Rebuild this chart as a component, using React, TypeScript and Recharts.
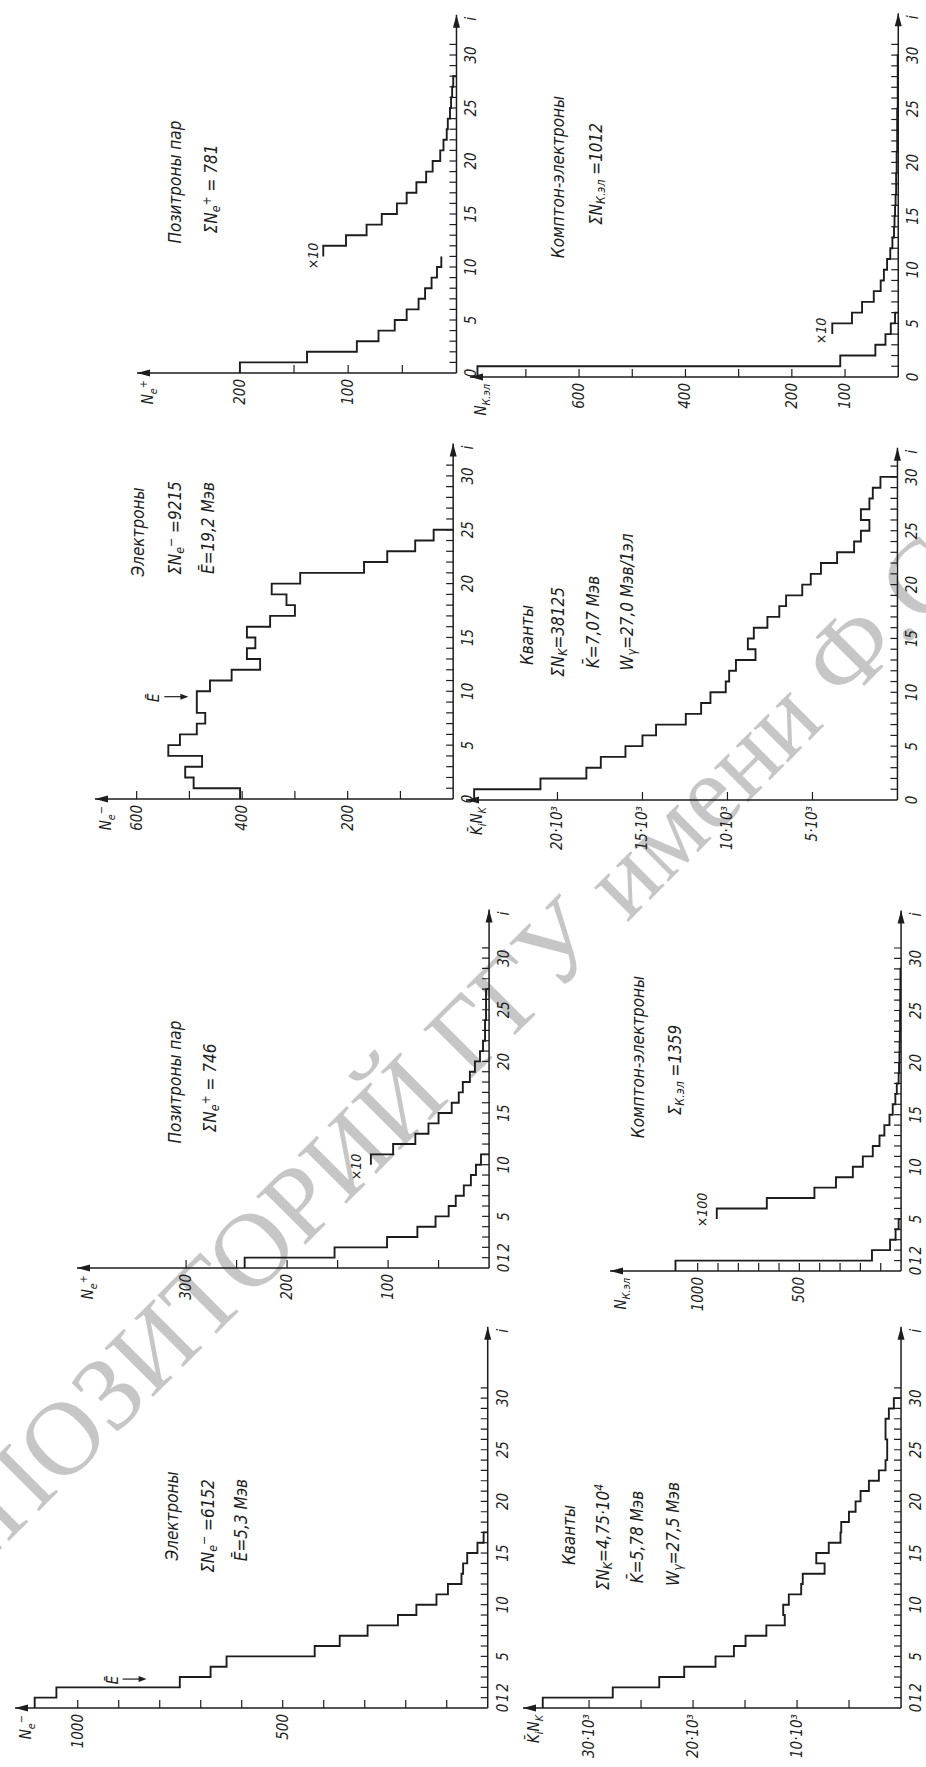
import React from 'react';
import { ComposedChart, Line, XAxis, YAxis, ReferenceDot } from 'recharts';

const INK = '#1d1d1d';
const FONT = "'DejaVu Sans Condensed', 'Liberation Sans Narrow', 'DejaVu Sans', sans-serif";

// ---------------- data (bin i covers [i, i+1)) ----------------
// left half, lower row: Электроны (ΣN = 6152)
const electrons6152 = [1105, 1052, 751, 676, 637, 422, 361, 293, 219, 174, 125, 97, 64, 60, 50, 25, 10];
// Кванты (ΣN = 4,75·10^4), K_i·N_K
const quanta475 = [34450, 27720, 23250, 20850, 17840, 16070, 14950, 12950, 11180, 11330, 10790, 9600, 9450, 7350, 8150, 6950, 5820, 5750, 5010, 4370, 3890, 3090, 2130, 1490, 1330, 1330, 1490, 1490, 1170, 690];
// Позитроны пар (ΣN = 746) and the ×10 tail
const positrons746 = [242, 153, 101, 71, 53, 40, 33, 25, 18, 13, 8];
const positrons746x10 = [117, 95, 73, 60, 50, 37, 30, 26, 19, 14, 9, 6, 4, 4, 3, 3, 3];
const positrons746x10Start = 10;
// Комптон-электроны (Σ = 1359) and the ×100 tail
const compton1359 = [1109, 143, 54, 27, 12];
const compton1359x100 = [906, 660, 426, 320, 237, 188, 139, 106, 82, 57, 41, 28, 21, 12, 10, 8, 7, 6, 5, 5, 4, 4, 3, 3];
const compton1359x100Start = 5;
// right half: Электроны (ΣN = 9215)
const electrons9215 = [404, 492, 508, 476, 540, 518, 486, 470, 486, 486, 461, 420, 366, 391, 375, 391, 347, 300, 316, 344, 290, 169, 125, 72, 37];
// Кванты (ΣN = 38125)
const quanta38125 = [24900, 21000, 18300, 17450, 16000, 15000, 14200, 12450, 11550, 11000, 10100, 9900, 9500, 8350, 8800, 8450, 7650, 6950, 6550, 5600, 5100, 4500, 3550, 2550, 2150, 1650, 2150, 1650, 1450, 1000];
// Позитроны пар (ΣN = 781) and the ×10 tail
const positrons781 = [200, 138, 92, 72, 57, 46, 35, 29, 23, 18, 14];
const positrons781x10 = [123, 102, 83, 69, 55, 46, 37, 28, 22, 15, 12, 9, 8, 6, 5, 4, 3];
const positrons781x10Start = 11;
// Комптон-электроны (ΣN = 1012) and the ×10 tail
const compton1012 = [791, 109, 43, 24, 14, 6];
const compton1012x10 = [124, 87, 68, 46, 33, 27, 21, 15, 11, 8, 7, 6, 5, 4, 4, 3, 3, 2, 2, 2, 2, 1, 1, 1, 1, 1];
const compton1012x10Start = 4;

// ---------------- ticks and tick labels ----------------
const iTicks = [0, 1, 2, 3, 4, 5, 6, 7, 8, 9, 10, 11, 12, 13, 14, 15, 16, 17, 18, 19, 20, 21, 22, 23, 24, 25, 26, 27, 28, 29, 30, 31];
const iLabelsFine = [0, 1, 2, 5, 10, 15, 20, 25, 30];
const iLabelsCoarse = [0, 5, 10, 15, 20, 25, 30];

const e6152Ticks = [100, 200, 300, 400, 500, 600, 700, 800, 900, 1000];
const e6152LabelVals = [500, 1000];
const e6152LabelText = ['500', '1000'];
const q475Ticks = [5000, 10000, 15000, 20000, 25000, 30000];
const q475LabelVals = [10000, 20000, 30000];
const q475LabelText = ['10·10³', '20·10³', '30·10³'];
const p746Ticks = [50, 100, 150, 200, 250, 300];
const p746LabelVals = [100, 200, 300];
const p746LabelText = ['100', '200', '300'];
const c1359Ticks = [100, 200, 300, 400, 500, 600, 700, 800, 900, 1000];
const c1359LabelVals = [500, 1000];
const c1359LabelText = ['500', '1000'];
const e9215Ticks = [100, 200, 300, 400, 500, 600];
const e9215LabelVals = [200, 400, 600];
const e9215LabelText = ['200', '400', '600'];
const q38125Ticks = [5000, 10000, 15000, 20000];
const q38125LabelVals = [5000, 10000, 15000, 20000];
const q38125LabelText = ['5·10³', '10·10³', '15·10³', '20·10³'];
const p781Ticks = [50, 100, 150, 200];
const p781LabelVals = [100, 200];
const p781LabelText = ['100', '200'];
const c1012Ticks = [100, 200, 300, 400, 500, 600, 700];
const c1012LabelVals = [100, 200, 400, 600];
const c1012LabelText = ['100', '200', '400', '600'];

// ---------------- helpers ----------------
function stepPoints(values: number[], start: number, drop: boolean) {
  const pts = values.map((v, k) => ({ i: start + k, v }));
  pts.push({ i: start + values.length, v: drop ? 0 : values[values.length - 1] });
  return pts;
}

type Seg = [string, string?];
function Rich({ x, y, segs, anchor = 'start', size = 15 }: { x: number; y: number; segs: Seg[]; anchor?: string; size?: number }) {
  let shift = 0;
  const spans = segs.map(([t, k], idx) => {
    const target = k === 'b' ? 4 : k === 'p' ? -6 : 0;
    const dy = target - shift;
    shift = target;
    return (
      <tspan key={idx} dy={dy} fontSize={k === 'b' || k === 'p' ? size * 0.72 : size}>
        {t}
      </tspan>
    );
  });
  return (
    <text x={x} y={y} textAnchor={anchor as any} fontFamily={FONT} fontStyle="italic" fill={INK} fontSize={size}>
      {spans}
    </text>
  );
}

function iTick(labels: number[]) {
  return (props: any) => {
    const { x, y, payload } = props;
    const v = payload.value;
    return (
      <g>
        {v > 0 && <line x1={x} y1={y} x2={x} y2={y - 7} stroke={INK} strokeWidth={1.2} />}
        {labels.includes(v) && (
          <text x={x} y={y + 20} textAnchor="middle" fontSize={15} fontStyle="italic" fontFamily={FONT} fill={INK}>
            {v}
          </text>
        )}
      </g>
    );
  };
}

function vTick(vals: number[], texts: string[]) {
  return (props: any) => {
    const { x, y, payload } = props;
    const idx = vals.indexOf(payload.value);
    return (
      <g>
        <line x1={x} y1={y} x2={x + 8} y2={y} stroke={INK} strokeWidth={1.2} />
        {idx >= 0 && (
          <text x={x - 6} y={y + 5} textAnchor="end" fontSize={15} fontStyle="italic" fontFamily={FONT} fill={INK}>
            {texts[idx]}
          </text>
        )}
      </g>
    );
  };
}

type Series = { values: number[]; start: number; drop: boolean };
type PanelProps = {
  x0: number; y0: number; ku: number; kv: number; iMax: number; vMax: number;
  vTicks: number[]; vLabelVals: number[]; vLabelText: string[]; iLabels: number[];
  series: Series[]; name: Seg[]; marker?: { i: number; v: number };
};

const ML = 70, MR = 24, MT = 24, MB = 30;
const YW = 50, XH = 24;

function Panel(p: PanelProps) {
  const plotW = p.iMax * p.ku;
  const plotH = p.vMax * p.kv;
  const W = ML + plotW + MR;
  const H = MT + plotH + MB;
  const upArrow = (s: any) => (
    <g>
      <polygon points={`${s.cx},${s.cy} ${s.cx - 3.5},${s.cy + 13} ${s.cx + 3.5},${s.cy + 13}`} fill={INK} />
      <Rich x={s.cx - 7} y={s.cy + 16} segs={p.name} anchor="end" size={15} />
    </g>
  );
  const rightArrow = (s: any) => (
    <g>
      <polygon points={`${s.cx},${s.cy} ${s.cx - 13},${s.cy - 3.5} ${s.cx - 13},${s.cy + 3.5}`} fill={INK} />
      <text x={s.cx - 4} y={s.cy + 20} textAnchor="middle" fontSize={16} fontStyle="italic" fontFamily={FONT} fill={INK}>
        i
      </text>
    </g>
  );
  const meanMark = (s: any) => (
    <g>
      <line x1={s.cx} y1={s.cy - 24} x2={s.cx} y2={s.cy - 4} stroke={INK} strokeWidth={1.2} />
      <polygon points={`${s.cx},${s.cy} ${s.cx - 3},${s.cy - 8} ${s.cx + 3},${s.cy - 8}`} fill={INK} />
      <text x={s.cx - 1} y={s.cy - 29} textAnchor="middle" fontSize={15} fontStyle="italic" fontFamily={FONT} fill={INK}>
        Ē
      </text>
    </g>
  );
  return (
    <div style={{ position: 'absolute', left: p.x0 - ML, top: p.y0 - plotH - MT }}>
      <ComposedChart
        width={W}
        height={H}
        margin={{ top: MT, right: MR, bottom: MB - XH, left: ML - YW }}
        style={{ overflow: 'visible' }}
      >
        <XAxis
          type="number"
          dataKey="i"
          domain={[0, p.iMax]}
          allowDataOverflow
          ticks={iTicks}
          interval={0}
          tickSize={0}
          tickMargin={0}
          height={XH}
          axisLine={{ stroke: INK, strokeWidth: 1.5 }}
          tickLine={false}
          tick={iTick(p.iLabels)}
        />
        <YAxis
          type="number"
          domain={[0, p.vMax]}
          allowDataOverflow
          ticks={p.vTicks}
          interval={0}
          tickSize={0}
          tickMargin={0}
          width={YW}
          axisLine={{ stroke: INK, strokeWidth: 1.5 }}
          tickLine={false}
          tick={vTick(p.vLabelVals, p.vLabelText)}
        />
        {p.series.map((s, k) => (
          <Line
            key={k}
            data={stepPoints(s.values, s.start, s.drop)}
            dataKey="v"
            type="stepAfter"
            stroke={INK}
            strokeWidth={1.9}
            dot={false}
            activeDot={false}
            isAnimationActive={false}
          />
        ))}
        <ReferenceDot x={0} y={p.vMax} r={0} ifOverflow="visible" shape={upArrow} />
        <ReferenceDot x={p.iMax} y={0} r={0} ifOverflow="visible" shape={rightArrow} />
        {p.marker && <ReferenceDot x={p.marker.i} y={p.marker.v} r={0} ifOverflow="visible" shape={meanMark} />}
      </ComposedChart>
    </div>
  );
}

function T({ x, y, children, size = 17 }: { x: number; y: number; children: React.ReactNode; size?: number }) {
  return (
    <div
      style={{
        position: 'absolute',
        left: x,
        top: y,
        transform: 'translate(-50%, -50%)',
        whiteSpace: 'nowrap',
        fontFamily: FONT,
        fontStyle: 'italic',
        fontSize: size,
        color: INK,
        lineHeight: 1,
      }}
    >
      {children}
    </div>
  );
}

const subS: React.CSSProperties = { fontSize: '0.72em', verticalAlign: '-0.3em', lineHeight: 0 };
const supS: React.CSSProperties = { fontSize: '0.72em', verticalAlign: '0.45em', lineHeight: 0 };

export default function App() {
  return (
    <div style={{ position: 'absolute', left: 0, top: 0, width: 926, height: 1767, overflow: 'hidden', background: '#ffffff' }}>
      <svg width={926} height={1767} style={{ position: 'absolute', left: 0, top: 0 }}>
        <text
          x={-80}
          y={1630}
          transform="rotate(-45 -80 1630)"
          fontFamily="'Liberation Serif', 'DejaVu Serif', serif"
          fontSize={105}
          fill="#c6c6c6"
        >
          РЕПОЗИТОРИЙ ГГУ имени Ф.Скорины
        </text>
      </svg>
      <div
        style={{
          position: 'absolute',
          left: 0,
          top: 0,
          width: 1767,
          height: 926,
          transformOrigin: '0 0',
          transform: 'translateY(1767px) rotate(-90deg)',
        }}
      >
        {/* A: Электроны 6152 */}
        <Panel
          x0={59} y0={488} ku={10.33} kv={0.41} iMax={36.9} vMax={1153}
          vTicks={e6152Ticks} vLabelVals={e6152LabelVals} vLabelText={e6152LabelText} iLabels={iLabelsFine}
          series={[{ values: electrons6152, start: 0, drop: true }]}
          name={[['N'], ['e', 'b'], ['−', 'p']]}
          marker={{ i: 2.8, v: 832 }}
        />
        {/* B: Кванты 4,75·10^4 */}
        <Panel
          x0={59} y0={901} ku={10.33} kv={0.0104} iMax={36.9} vMax={36350}
          vTicks={q475Ticks} vLabelVals={q475LabelVals} vLabelText={q475LabelText} iLabels={iLabelsFine}
          series={[{ values: quanta475, start: 0, drop: true }]}
          name={[['K\u0304'], ['i', 'b'], ['N'], ['K', 'b']]}
        />
        {/* C: Позитроны 746 */}
        <Panel
          x0={499} y0={489} ku={10.33} kv={1.01} iMax={34.7} vMax={408}
          vTicks={p746Ticks} vLabelVals={p746LabelVals} vLabelText={p746LabelText} iLabels={iLabelsFine}
          series={[
            { values: positrons746, start: 0, drop: true },
            { values: positrons746x10, start: positrons746x10Start, drop: true },
          ]}
          name={[['N'], ['e', 'b'], ['+', 'p']]}
        />
        {/* D: Комптон 1359 */}
        <Panel
          x0={496} y0={901} ku={10.42} kv={0.2034} iMax={34.6} vMax={1431}
          vTicks={c1359Ticks} vLabelVals={c1359LabelVals} vLabelText={c1359LabelText} iLabels={iLabelsFine}
          series={[
            { values: compton1359, start: 0, drop: true },
            { values: compton1359x100, start: compton1359x100Start, drop: true },
          ]}
          name={[['N'], ['К.эл', 'b']]}
        />
        {/* E: Электроны 9215 */}
        <Panel
          x0={968} y0={453} ku={10.77} kv={0.5275} iMax={33} vMax={679}
          vTicks={e9215Ticks} vLabelVals={e9215LabelVals} vLabelText={e9215LabelText} iLabels={iLabelsCoarse}
          series={[{ values: electrons9215, start: 0, drop: true }]}
          name={[['N'], ['e', 'b'], ['−', 'p']]}
          marker={{ i: 9.5, v: 502 }}
        />
        {/* F: Кванты 38125 */}
        <Panel
          x0={967} y0={897.5} ku={10.77} kv={0.017} iMax={32.7} vMax={25380}
          vTicks={q38125Ticks} vLabelVals={q38125LabelVals} vLabelText={q38125LabelText} iLabels={iLabelsCoarse}
          series={[{ values: quanta38125, start: 0, drop: true }]}
          name={[['K\u0304'], ['i', 'b'], ['N'], ['K', 'b']]}
        />
        {/* G: Позитроны 781 */}
        <Panel
          x0={1394} y0={456} ku={10.6} kv={1.083} iMax={33.8} vMax={295}
          vTicks={p781Ticks} vLabelVals={p781LabelVals} vLabelText={p781LabelText} iLabels={iLabelsCoarse}
          series={[
            { values: positrons781, start: 0, drop: false },
            { values: positrons781x10, start: positrons781x10Start, drop: true },
          ]}
          name={[['N'], ['e', 'b'], ['+', 'p']]}
        />
        {/* H: Комптон 1012 */}
        <Panel
          x0={1390} y0={898.5} ku={10.73} kv={0.532} iMax={33.9} vMax={805}
          vTicks={c1012Ticks} vLabelVals={c1012LabelVals} vLabelText={c1012LabelText} iLabels={iLabelsCoarse}
          series={[
            { values: compton1012, start: 0, drop: true },
            { values: compton1012x10, start: compton1012x10Start, drop: true },
          ]}
          name={[['N'], ['К.эл', 'b']]}
        />

        {/* titles */}
        <T x={251} y={172}>Электроны</T>
        <T x={241} y={208}>ΣN<span style={subS}>e</span><span style={supS}>−</span> =6152</T>
        <T x={247} y={241}>Ē=5,3 Мэв</T>

        <T x={232} y={569}>Кванты</T>
        <T x={230} y={603}>ΣN<span style={subS}>K</span>=4,75·10<span style={supS}>4</span></T>
        <T x={230} y={637}>K̄=5,78 Мэв</T>
        <T x={233} y={673}>W<span style={subS}>γ</span>=27,5 Мэв</T>

        <T x={685} y={175}>Позитроны пар</T>
        <T x={679} y={210}>ΣN<span style={subS}>e</span><span style={supS}>+</span> = 746</T>
        <T x={600} y={356} size={14}>×10</T>

        <T x={710} y={638}>Комптон-электроны</T>
        <T x={697} y={675}>Σ<span style={subS}>К.эл</span> =1359</T>
        <T x={557} y={702} size={14}>×100</T>

        <T x={1235} y={138}>Электроны</T>
        <T x={1239} y={175}>ΣN<span style={subS}>e</span><span style={supS}>−</span> =9215</T>
        <T x={1239} y={208}>Ē=19,2 Мэв</T>

        <T x={1132} y={527}>Кванты</T>
        <T x={1135} y={558}>ΣN<span style={subS}>K</span>=38125</T>
        <T x={1145} y={593}>K̄=7,07 Мэв</T>
        <T x={1165} y={627}>W<span style={subS}>γ</span>=27,0 Мэв/1эл</T>

        <T x={1585} y={175}>Позитроны пар</T>
        <T x={1578} y={211}>ΣN<span style={subS}>e</span><span style={supS}>+</span> = 781</T>
        <T x={1511} y={313} size={14}>×10</T>

        <T x={1590} y={558}>Комптон-электроны</T>
        <T x={1593} y={596}>ΣN<span style={subS}>К.эл</span> =1012</T>
        <T x={1436} y={821} size={14}>×10</T>
      </div>
    </div>
  );
}
